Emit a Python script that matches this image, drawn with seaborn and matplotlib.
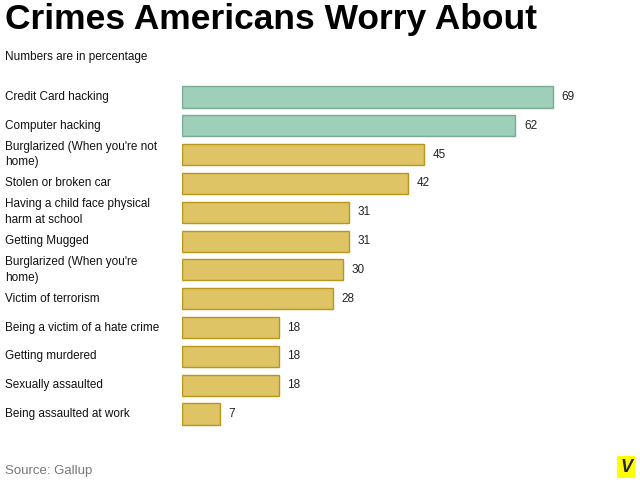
import pandas as pd
import matplotlib.pyplot as plt
import seaborn as sns

# -----------------------------
# Data
# -----------------------------
crimes = [
    "Credit Card hacking",
    "Computer hacking",
    "Burglarized (When you're not\nhome)",
    "Stolen or broken car",
    "Having a child face physical\nharm at school",
    "Getting Mugged",
    "Burglarized (When you're\nhome)",
    "Victim of terrorism",
    "Being a victim of a hate crime",
    "Getting murdered",
    "Sexually assaulted",
    "Being assaulted at work",
]
percent = [69, 62, 45, 42, 31, 31, 30, 28, 18, 18, 18, 7]
group = ["cyber", "cyber"] + ["other"] * 10

df = pd.DataFrame({"crime": crimes, "percent": percent, "group": group})

sns.set_style("white")
plt.rcParams["font.family"] = ["Liberation Sans", "DejaVu Sans"]

fig = plt.figure(figsize=(6.4, 4.91), dpi=100)
ax = fig.add_axes([182 / 640, 1 - 428.4 / 491, 457 / 640, 345.8 / 491])

palette = {"cyber": "#9ed0b9", "other": "#dec464"}
edges = {"cyber": "#7aab95", "other": "#b8961c"}

sns.barplot(data=df, x="percent", y="crime", hue="group", palette=palette,
            dodge=False, width=0.73, saturation=1, legend=False, ax=ax)

# edge colours per bar
for patch in ax.patches:
    y = patch.get_y() + patch.get_height() / 2
    idx = int(round(y))
    if 0 <= idx < len(group):
        patch.set_edgecolor(edges[group[idx]])
        patch.set_linewidth(1.0)

ax.set_xlim(0, 85)
ax.set_ylim(len(crimes) - 0.5, -0.5)
ax.set_xticks([])
ax.set_yticks([])
ax.set_xlabel("")
ax.set_ylabel("")
sns.despine(ax=ax, left=True, bottom=True)

# value labels
for i, v in enumerate(percent):
    ax.text(v + 1.6, i, str(v), va="center", ha="left", fontsize=8.5, color="#222222")

# category labels at left edge of figure
for i, name in enumerate(crimes):
    ax.annotate(name, xy=(0, i), xycoords=("figure pixels", "data"),
                xytext=(5, 0), textcoords="offset pixels",
                va="center", ha="left", fontsize=8.5, color="#111111",
                linespacing=1.4)

# -----------------------------
# Titles and footer
# -----------------------------
fig.text(5 / 640, 1 - 20 / 491, "Crimes Americans Worry About", fontsize=25.5,
         fontweight="bold", va="center", ha="left", color="black")
fig.text(5 / 640, 1 - 57 / 491, "Numbers are in percentage", fontsize=8.5,
         va="center", ha="left", color="#111111")
fig.text(5 / 640, 1 - 471 / 491, "Source: Gallup", fontsize=9.5,
         va="center", ha="left", color="#777777")
fig.text(626 / 640, 1 - 467 / 491, "V", fontsize=13, fontweight="bold",
         style="italic", va="center", ha="center", color="#222244",
         bbox=dict(boxstyle="square,pad=0.15", fc="#ffff00", ec="none"))

fig.savefig("out.png", dpi=100)
